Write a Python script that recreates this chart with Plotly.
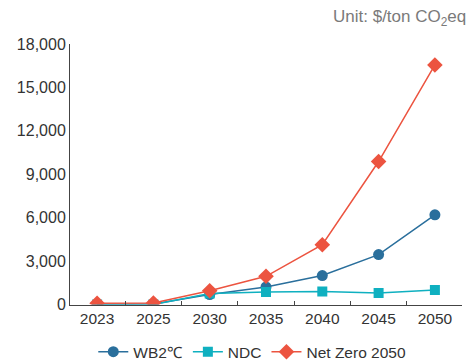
import plotly.graph_objects as go

# Carbon price pathways by scenario ($/ton CO2eq)
years = ["2023", "2025", "2030", "2035", "2040", "2045", "2050"]
wb2c = [0, 30, 690, 1210, 2000, 3450, 6200]
ndc = [0, 0, 760, 860, 900, 800, 1000]
net_zero = [90, 100, 950, 1950, 4130, 9880, 16550]

y_ticks = [0, 3000, 6000, 9000, 12000, 15000, 18000]

FONT = "Liberation Sans, Arial, sans-serif"

fig = go.Figure()

series = [
    ("WB2℃", wb2c, "#2a6f9c", "circle", 11),
    ("NDC", ndc, "#0fb0c0", "square", 10),
    ("Net Zero 2050", net_zero, "#ec5440", "diamond", 12),
]
for name, vals, color, symbol, size in series:
    fig.add_trace(go.Scatter(
        x=years, y=vals, name=name, mode="lines+markers",
        line=dict(color=color, width=1.5),
        marker=dict(symbol=symbol, size=size, color=color),
    ))

fig.update_layout(
    width=470, height=363,
    margin=dict(l=70, r=8, t=44, b=57),
    paper_bgcolor="white", plot_bgcolor="white",
    font=dict(family=FONT, size=15.5, color="#333333"),
    showlegend=True,
    legend=dict(
        orientation="h", x=0.465, xanchor="center",
        yref="container", y=0.03, yanchor="middle",
        font=dict(size=15.5, color="#333333"),
        traceorder="normal", itemwidth=30,
    ),
    xaxis=dict(
        type="category", showline=True, linecolor="#444444", linewidth=1,
        ticks="inside", tickson="boundaries", ticklen=4, tickcolor="#444444",
        showgrid=False, tickfont=dict(size=15.5, color="#333333"),
    ),
    yaxis=dict(
        range=[0, 18000], tickvals=y_ticks, tickformat=",d",
        showline=True, linecolor="#444444", linewidth=1,
        showgrid=False, zeroline=False, ticks="",
        tickfont=dict(size=16, color="#333333"),
    ),
    annotations=[dict(
        text="Unit: $/ton CO<sub>2</sub>eq", xref="paper", yref="paper",
        x=(468 - 70) / 392, xanchor="right", y=(306 - 18) / 262, yanchor="middle",
        showarrow=False, font=dict(size=17, color="#7a7a7a"),
    )],
)

fig.write_html("out.html")
